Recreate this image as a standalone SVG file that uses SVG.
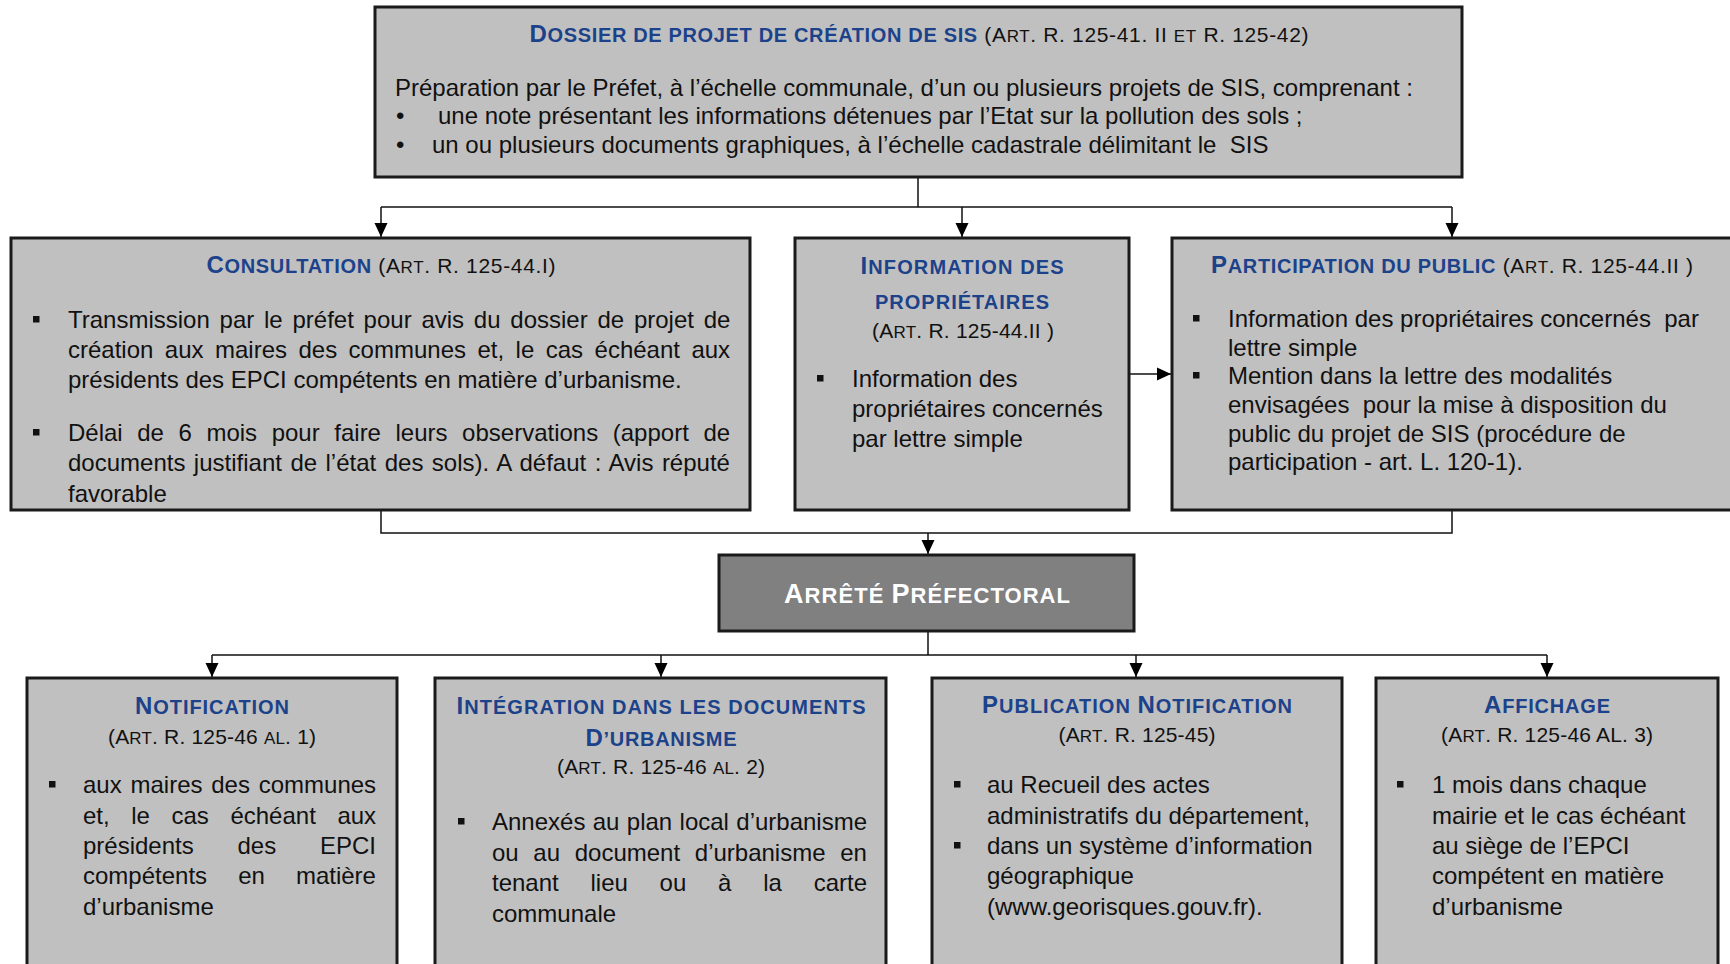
<svg xmlns="http://www.w3.org/2000/svg" width="1730" height="964" viewBox="0 0 1730 964">
  <defs>
    <marker id="arrow" markerUnits="userSpaceOnUse" markerWidth="14" markerHeight="14" viewBox="0 0 14 14" refX="14" refY="7" orient="auto">
      <path d="M0,0.5 L14,7 L0,13.5 z" fill="#000"/>
    </marker>
    <style>
      text { font-family: "Liberation Sans", Arial, Helvetica, sans-serif; fill: #111; }
      .box { fill: #c0c0c0; stroke: #1a1a1a; stroke-width: 3; }
      .dark { fill: #808080; stroke: #1a1a1a; stroke-width: 3; }
      .body { font-size: 24px; }
      .h { font-size: 21px; }
      .b { font-size: 24px; font-weight: bold; fill: #1b428a; }
      .bs { font-size: 20px; font-weight: bold; fill: #1b428a; }
      .r { font-size: 21px; }
      .rs { font-size: 17px; }
      .w { font-size: 27px; font-weight: bold; fill: #fff; }
      .ws { font-size: 22px; font-weight: bold; fill: #fff; }
      .sq { fill: #111; }
      .link { fill: none; stroke: #111; stroke-width: 1.5; }
      .arr { fill: none; stroke: #111; stroke-width: 1.5; marker-end: url(#arrow); }
    </style>
  </defs>

  <!-- connectors -->
  <g id="connectors">
    <path class="link" d="M918,178 V207 M381,207 H1452"/>
    <path class="arr" d="M381,207 V237"/>
    <path class="arr" d="M962,207 V237"/>
    <path class="arr" d="M1452,207 V237"/>
    <path class="arr" d="M1130,374 H1171"/>
    <path class="link" d="M381,511 V533 H1452 V511"/>
    <path class="arr" d="M928,533 V554"/>
    <path class="link" d="M928,632 V655 M212,655 H1547"/>
    <path class="arr" d="M212,655 V677"/>
    <path class="arr" d="M661,655 V677"/>
    <path class="arr" d="M1136,655 V677"/>
    <path class="arr" d="M1547,655 V677"/>
  </g>

  <!-- project file -->
  <g id="dossier">
    <rect class="box" x="375" y="7" width="1087" height="170"/>
    <text class="h" x="919" y="42" text-anchor="middle" textLength="779" lengthAdjust="spacing"><tspan class="b">D</tspan><tspan class="bs">OSSIER DE PROJET DE CRÉATION DE SIS</tspan> <tspan class="r">(A</tspan><tspan class="rs">RT</tspan><tspan class="r">. R. 125-41. II </tspan><tspan class="rs">ET</tspan><tspan class="r"> R. 125-42)</tspan></text>
    <text class="body" x="395" y="96">Préparation par le Préfet, à l’échelle communale, d’un ou plusieurs projets de SIS, comprenant :</text>
    <text class="body" x="396" y="124">•</text>
    <text class="body" x="438" y="124">une note présentant les informations détenues par l’Etat sur la pollution des sols ;</text>
    <text class="body" x="396" y="153">•</text>
    <text class="body" x="432" y="153" xml:space="preserve">un ou plusieurs documents graphiques, à l’échelle cadastrale délimitant le  SIS</text>
  </g>

  <!-- consultation -->
  <g id="consultation">
    <rect class="box" x="11" y="238" width="739" height="272"/>
    <text class="h" x="381" y="273" text-anchor="middle" textLength="349" lengthAdjust="spacing"><tspan class="b">C</tspan><tspan class="bs">ONSULTATION</tspan> <tspan class="r">(A</tspan><tspan class="rs">RT</tspan><tspan class="r">. R. 125-44.I)</tspan></text>
    <rect class="sq" x="33" y="316" width="6.5" height="6.5"/>
    <text class="body" x="68" y="328" word-spacing="3.1">Transmission par le préfet pour avis du dossier de projet de</text>
    <text class="body" x="68" y="358" word-spacing="4.79">création aux maires des communes et, le cas échéant aux</text>
    <text class="body" x="68" y="388">présidents des EPCI compétents en matière d’urbanisme.</text>
    <rect class="sq" x="33" y="429" width="6.5" height="6.5"/>
    <text class="body" x="68" y="441" word-spacing="7.9">Délai de 6 mois pour faire leurs observations (apport de</text>
    <text class="body" x="68" y="471" word-spacing="1.8">documents justifiant de l’état des sols). A défaut : Avis réputé</text>
    <text class="body" x="68" y="502">favorable</text>
  </g>

  <!-- owners information -->
  <g id="information">
    <rect class="box" x="795" y="238" width="334" height="272"/>
    <text class="h" x="962" y="274" text-anchor="middle" textLength="203" lengthAdjust="spacing"><tspan class="b">I</tspan><tspan class="bs">NFORMATION DES</tspan></text>
    <text class="h" x="962" y="309" text-anchor="middle" textLength="174" lengthAdjust="spacing"><tspan class="bs">PROPRIÉTAIRES</tspan></text>
    <text class="h" x="963" y="338" text-anchor="middle" textLength="182" lengthAdjust="spacing"><tspan class="r">(A</tspan><tspan class="rs">RT</tspan><tspan class="r">. R. 125-44.II )</tspan></text>
    <rect class="sq" x="817" y="375" width="6.5" height="6.5"/>
    <text class="body" x="852" y="387">Information des</text>
    <text class="body" x="852" y="417">propriétaires concernés</text>
    <text class="body" x="852" y="447">par lettre simple</text>
  </g>

  <!-- public participation -->
  <g id="participation">
    <rect class="box" x="1172" y="238" width="580" height="272"/>
    <text class="h" x="1211" y="273" textLength="482" lengthAdjust="spacing"><tspan class="b">P</tspan><tspan class="bs">ARTICIPATION DU PUBLIC</tspan> <tspan class="r">(A</tspan><tspan class="rs">RT</tspan><tspan class="r">. R. 125-44.II )</tspan></text>
    <rect class="sq" x="1193" y="315" width="6.5" height="6.5"/>
    <text class="body" x="1228" y="327" xml:space="preserve">Information des propriétaires concernés  par</text>
    <text class="body" x="1228" y="356">lettre simple</text>
    <rect class="sq" x="1193" y="372" width="6.5" height="6.5"/>
    <text class="body" x="1228" y="384">Mention dans la lettre des modalités</text>
    <text class="body" x="1228" y="413" xml:space="preserve">envisagées  pour la mise à disposition du</text>
    <text class="body" x="1228" y="442">public du projet de SIS (procédure de</text>
    <text class="body" x="1228" y="470">participation - art. L. 120-1).</text>
  </g>

  <!-- prefectoral order -->
  <g id="arrete">
    <rect class="dark" x="719" y="555" width="415" height="76"/>
    <text class="h" x="927" y="603" text-anchor="middle" textLength="286" lengthAdjust="spacing"><tspan class="w">A</tspan><tspan class="ws">RRÊTÉ </tspan><tspan class="w">P</tspan><tspan class="ws">RÉFECTORAL</tspan></text>
  </g>

  <!-- notification -->
  <g id="notification">
    <rect class="box" x="27" y="678" width="370" height="300"/>
    <text class="h" x="212" y="714" text-anchor="middle" textLength="154" lengthAdjust="spacing"><tspan class="b">N</tspan><tspan class="bs">OTIFICATION</tspan></text>
    <text class="h" x="212" y="744" text-anchor="middle" textLength="208" lengthAdjust="spacing"><tspan class="r">(A</tspan><tspan class="rs">RT</tspan><tspan class="r">. R. 125-46 </tspan><tspan class="rs">AL</tspan><tspan class="r">. 1)</tspan></text>
    <rect class="sq" x="49" y="781" width="6.5" height="6.5"/>
    <text class="body" x="83" y="793" word-spacing="2.1">aux maires des communes</text>
    <text class="body" x="83" y="824" word-spacing="14.9">et, le cas échéant aux</text>
    <text class="body" x="83" y="854" word-spacing="37.1">présidents des EPCI</text>
    <text class="body" x="83" y="884" word-spacing="24.4">compétents en matière</text>
    <text class="body" x="83" y="915">d’urbanisme</text>
  </g>

  <!-- planning documents -->
  <g id="integration">
    <rect class="box" x="435" y="678" width="451" height="300"/>
    <text class="h" x="661" y="714" text-anchor="middle" textLength="409" lengthAdjust="spacing"><tspan class="b">I</tspan><tspan class="bs">NTÉGRATION DANS LES DOCUMENTS</tspan></text>
    <text class="h" x="661" y="746" text-anchor="middle" textLength="151" lengthAdjust="spacing"><tspan class="b">D</tspan><tspan class="bs">’URBANISME</tspan></text>
    <text class="h" x="661" y="774" text-anchor="middle" textLength="208" lengthAdjust="spacing"><tspan class="r">(A</tspan><tspan class="rs">RT</tspan><tspan class="r">. R. 125-46 </tspan><tspan class="rs">AL</tspan><tspan class="r">. 2)</tspan></text>
    <rect class="sq" x="458" y="818" width="6.5" height="6.5"/>
    <text class="body" x="492" y="830" word-spacing="0.7">Annexés au plan local d’urbanisme</text>
    <text class="body" x="492" y="861" word-spacing="8">ou au document d’urbanisme en</text>
    <text class="body" x="492" y="891" word-spacing="25.1">tenant lieu ou à la carte</text>
    <text class="body" x="492" y="922">communale</text>
  </g>

  <!-- publication -->
  <g id="publication">
    <rect class="box" x="932" y="678" width="410" height="300"/>
    <text class="h" x="1137" y="713" text-anchor="middle" textLength="310" lengthAdjust="spacing"><tspan class="b">P</tspan><tspan class="bs">UBLICATION </tspan><tspan class="b">N</tspan><tspan class="bs">OTIFICATION</tspan></text>
    <text class="h" x="1137" y="742" text-anchor="middle" textLength="157" lengthAdjust="spacing"><tspan class="r">(A</tspan><tspan class="rs">RT</tspan><tspan class="r">. R. 125-45)</tspan></text>
    <rect class="sq" x="954" y="781" width="6.5" height="6.5"/>
    <text class="body" x="987" y="793">au Recueil des actes</text>
    <text class="body" x="987" y="824">administratifs du département,</text>
    <rect class="sq" x="954" y="842" width="6.5" height="6.5"/>
    <text class="body" x="987" y="854">dans un système d’information</text>
    <text class="body" x="987" y="884">géographique</text>
    <text class="body" x="987" y="915">(www.georisques.gouv.fr).</text>
  </g>

  <!-- posting -->
  <g id="affichage">
    <rect class="box" x="1376" y="678" width="342" height="300"/>
    <text class="h" x="1547" y="713" text-anchor="middle" textLength="126" lengthAdjust="spacing"><tspan class="b">A</tspan><tspan class="bs">FFICHAGE</tspan></text>
    <text class="h" x="1547" y="742" text-anchor="middle" textLength="212" lengthAdjust="spacing"><tspan class="r">(A</tspan><tspan class="rs">RT</tspan><tspan class="r">. R. 125-46 AL. 3)</tspan></text>
    <rect class="sq" x="1397" y="781" width="6.5" height="6.5"/>
    <text class="body" x="1432" y="793">1 mois dans chaque</text>
    <text class="body" x="1432" y="824">mairie et le cas échéant</text>
    <text class="body" x="1432" y="854">au siège de l’EPCI</text>
    <text class="body" x="1432" y="884">compétent en matière</text>
    <text class="body" x="1432" y="915">d’urbanisme</text>
  </g>
</svg>
